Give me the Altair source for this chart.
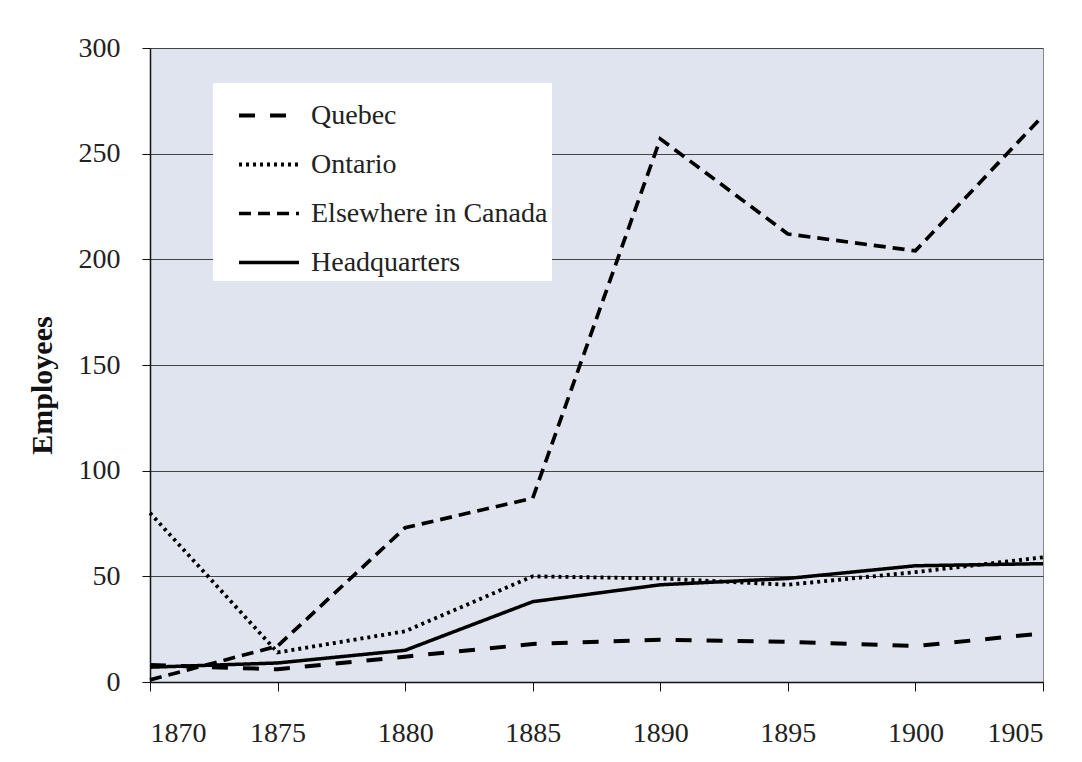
import altair as alt
import pandas as pd

years = [1870, 1875, 1880, 1885, 1890, 1895, 1900, 1905]
quebec = [8, 6, 12, 18, 20, 19, 17, 23]
ontario = [80, 14, 24, 50, 49, 46, 52, 59]
elsewhere = [1, 17, 73, 87, 257, 212, 204, 268]
headquarters = [7, 9, 15, 38, 46, 49, 55, 56]

series = ["Quebec", "Ontario", "Elsewhere in Canada", "Headquarters"]
dash_styles = [[16, 15], [3, 4], [12, 7], [1, 0]]
line_widths = [4, 3.5, 4.5, 3]
y_ticks = [0, 50, 100, 150, 200, 250, 300]

rows = []
for name, vals in zip(series, [quebec, ontario, elsewhere, headquarters]):
    for yr, v in zip(years, vals):
        rows.append({"Year": yr, "Employees": v, "Series": name})
df = pd.DataFrame(rows)

FONT = "Liberation Serif"

chart = alt.Chart(df).mark_line(color="black", strokeCap="butt").encode(
    x=alt.X("Year:Q",
            scale=alt.Scale(domain=[1870, 1905], nice=False, zero=False),
            axis=alt.Axis(values=years, format="d", title=None, grid=False,
                          tickSize=9, labelPadding=28, labelFontSize=28,
                          labelFont=FONT, labelColor="#222",
                          domainColor="#111", domainWidth=1.5,
                          tickColor="#111")),
    y=alt.Y("Employees:Q",
            scale=alt.Scale(domain=[0, 300], nice=False),
            axis=alt.Axis(values=y_ticks, title="Employees", grid=True,
                          gridColor="#444", gridWidth=1,
                          tickSize=8, labelPadding=22, labelFontSize=28,
                          labelFont=FONT, labelColor="#222",
                          domainColor="#111", domainWidth=1.5,
                          tickColor="#111",
                          titleFont=FONT, titleFontSize=30,
                          titleFontWeight="bold", titleColor="#111",
                          titleAngle=270, titleX=-108, titleY=337,
                          titleAlign="center", titleBaseline="middle")),
    strokeDash=alt.StrokeDash("Series:N",
                              scale=alt.Scale(domain=series, range=dash_styles),
                              legend=alt.Legend(title=" ", orient="none",
                                                titleFontSize=10,
                                                titlePadding=4,
                                                legendX=63, legendY=35,
                                                fillColor="white",
                                                padding=4,
                                                clipHeight=29,
                                                symbolType="stroke",
                                                symbolSize=3600,
                                                symbolOffset=20,
                                                symbolStrokeColor="black",
                                                symbolStrokeWidth=3.5,
                                                labelFont=FONT,
                                                labelFontSize=28,
                                                labelColor="#222",
                                                labelOffset=10,
                                                labelLimit=400,
                                                rowPadding=20)),
    strokeWidth=alt.StrokeWidth("Series:N",
                                scale=alt.Scale(domain=series, range=line_widths),
                                legend=None),
    detail="Series:N",
).properties(
    width=893,
    height=634,
    padding={"left": 142, "top": 40, "right": 31, "bottom": 72},
    autosize=alt.AutoSizeParams(type="none"),
).configure(
    background="white",
).configure_view(
    fill="#dfe4ee",
    stroke="#888",
    strokeWidth=1,
)

chart.save("out.html", embed_options={"renderer": "svg", "actions": False})
